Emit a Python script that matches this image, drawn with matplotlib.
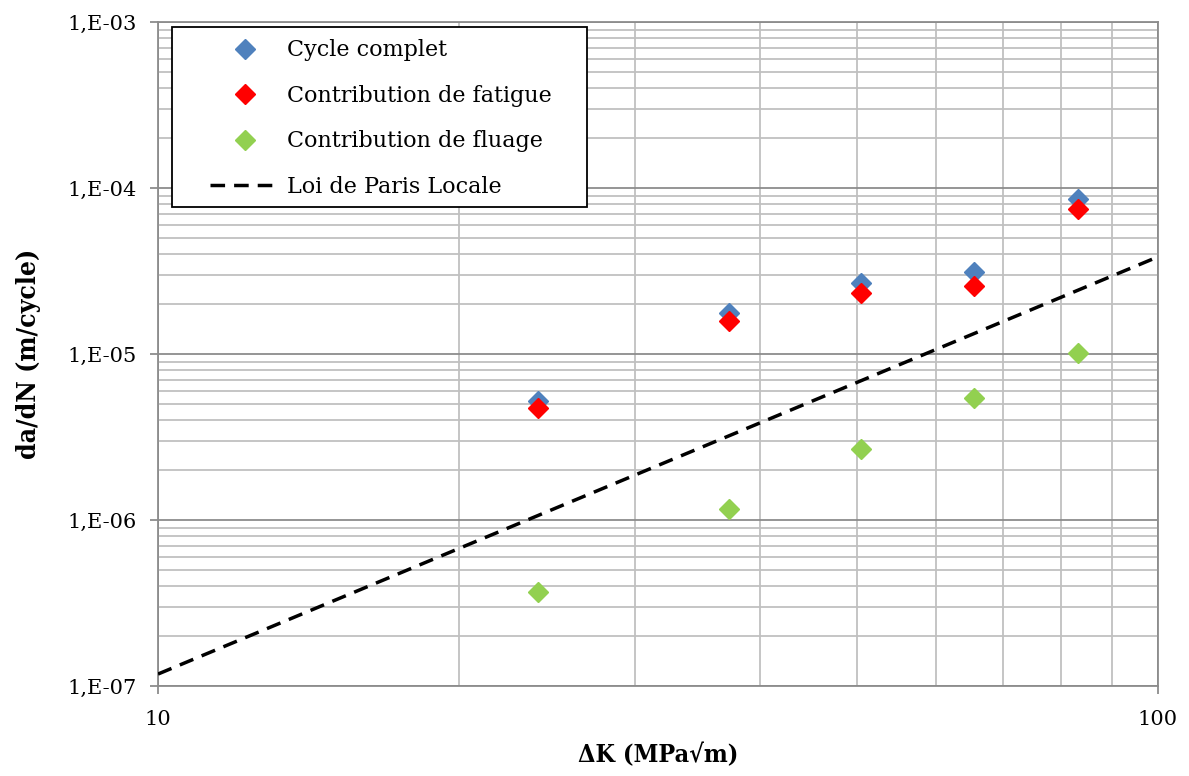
import math
from matplotlib import pyplot as plt
from matplotlib.patches import Rectangle
from matplotlib.ticker import FuncFormatter, LogLocator, NullFormatter

# données
delta_k = [24.0, 37.2, 50.5, 65.4, 83.1]
cycle_complet = [5.2e-6, 1.77e-5, 2.68e-5, 3.13e-5, 8.6e-5]
contrib_fatigue = [4.73e-6, 1.59e-5, 2.34e-5, 2.57e-5, 7.46e-5]
contrib_fluage = [3.66e-7, 1.17e-6, 2.68e-6, 5.46e-6, 1.02e-5]
paris_dk = [10, 100]
paris_dadn = [1.18e-7, 3.85e-5]

plt.rcParams['font.family'] = ['DejaVu Serif']

fig = plt.figure(figsize=(11.89, 7.76), dpi=100)
ax = fig.add_axes([0.1329, 0.116, 0.841, 0.8556])

ax.plot(delta_k, cycle_complet, 'D', color='#4F81BD', markersize=10, linestyle='none', label='Cycle complet', zorder=3)
ax.plot(delta_k, contrib_fatigue, 'D', color='#FF0000', markersize=10, linestyle='none', label='Contribution de fatigue', zorder=3)
ax.plot(delta_k, contrib_fluage, 'D', color='#92D050', markersize=10, linestyle='none', label='Contribution de fluage', zorder=3)
ax.plot(paris_dk, paris_dadn, color='black', linewidth=2.5, dashes=(4.2, 2.6), label='Loi de Paris Locale', zorder=4)

ax.set_xscale('log')
ax.set_yscale('log')
ax.set_xlim(10, 100)
ax.set_ylim(1e-7, 1e-3)

ax.xaxis.set_major_locator(LogLocator(base=10))
ax.xaxis.set_minor_locator(LogLocator(base=10, subs=range(2, 10)))
ax.xaxis.set_minor_formatter(NullFormatter())
ax.xaxis.set_major_formatter(FuncFormatter(lambda v, p: '%d' % round(v)))
ax.yaxis.set_major_locator(LogLocator(base=10))
ax.yaxis.set_minor_locator(LogLocator(base=10, subs=range(2, 10)))
ax.yaxis.set_minor_formatter(NullFormatter())
ax.yaxis.set_major_formatter(FuncFormatter(lambda v, p: '1,E-%02d' % round(-math.log10(v))))

ax.grid(which='major', color='#8C8C8C', linewidth=1.3)
ax.grid(which='minor', color='#C0C0C0', linewidth=1.3)
ax.set_axisbelow(True)
for s in ax.spines.values():
    s.set_color('#8C8C8C')
    s.set_linewidth(1.3)

ax.tick_params(axis='both', which='major', labelsize=15, color='#8C8C8C', length=6, width=1.3)
ax.tick_params(axis='both', which='minor', length=0)
ax.tick_params(axis='x', pad=11)
ax.tick_params(axis='y', pad=9)

ax.set_xlabel('ΔK (MPa√m)', fontsize=18, fontweight='bold', fontstretch='condensed', labelpad=10)
ax.set_ylabel('da/dN (m/cycle)', fontsize=19, fontweight='bold', fontstretch='condensed', labelpad=19)

# légende sans cadre + cadre dessiné à part
leg = ax.legend(loc='upper left', bbox_to_anchor=(0.052, 0.974), fontsize=16, frameon=False,
                labelspacing=1.06, handlelength=3.15, borderpad=0, handletextpad=0.3, borderaxespad=0)
leg.set_zorder(6)
ax.add_patch(Rectangle((0.014, 0.7214), 0.415, 0.2711, transform=ax.transAxes,
                       facecolor='white', edgecolor='black', linewidth=1.3, zorder=5))

fig.savefig('out.png', dpi=100)
